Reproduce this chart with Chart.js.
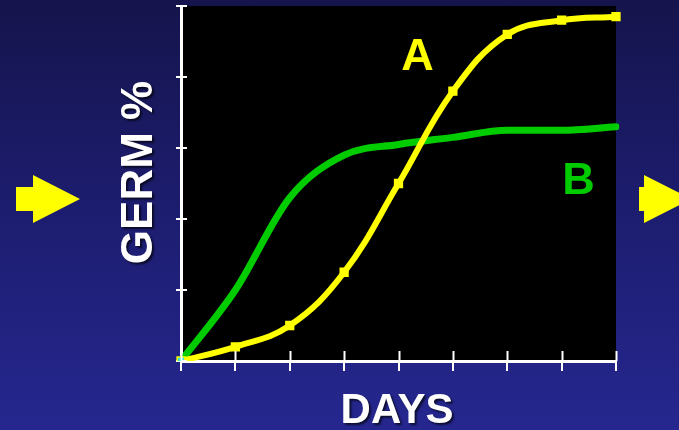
<!DOCTYPE html>
<html>
<head>
<meta charset="utf-8">
<script src="https://cdn.jsdelivr.net/npm/chart.js@4"></script>
<style>
  html, body { margin: 0; padding: 0; }
  body {
    width: 679px; height: 430px; overflow: hidden;
    background: linear-gradient(to bottom, #15144c 0%, #1d1d70 50%, #25278f 100%);
  }
  #wrap { position: relative; width: 679px; height: 430px; }
</style>
</head>
<body>
<div id="wrap"><canvas id="chart" width="679" height="430"></canvas></div>
<script>
// Days after sowing (tick positions on the x axis)
const days = [0, 1, 2, 3, 4, 5, 6, 7, 8];
// Cumulative germination (%) for the two seed lots
const seriesA = [0, 4, 10, 25, 50, 76, 92, 96, 97];
const seriesB = [0, 20, 46, 58, 61, 63, 65, 65, 66];
// Y axis range and tick step
const yMin = 0, yMax = 100, yStep = 20;

const FONT = '"Liberation Sans", Arial, sans-serif';

// Black plot background
const plotBackground = {
  id: 'plotBackground',
  beforeDraw(chart) {
    const { ctx, chartArea: a } = chart;
    ctx.save();
    ctx.fillStyle = '#000000';
    ctx.fillRect(a.left, a.top, a.right - a.left, a.bottom - a.top);
    ctx.restore();
  }
};

// Tick marks that also reach into the plot, plus titles, series letters and arrows
const decorations = {
  id: 'decorations',
  afterDraw(chart) {
    const { ctx, chartArea: a } = chart;
    const xs = chart.scales.x, ys = chart.scales.y;
    ctx.save();
    ctx.strokeStyle = '#ffffff';
    ctx.lineWidth = 2;
    ctx.beginPath();
    xs.ticks.forEach((t, i) => {
      const px = Math.round(xs.getPixelForTick(i)) + 0.5;
      ctx.moveTo(px, a.bottom - 10);
      ctx.lineTo(px, a.bottom);
    });
    ys.ticks.forEach((t, i) => {
      const py = Math.round(ys.getPixelForTick(i));
      ctx.moveTo(a.left, py);
      ctx.lineTo(a.left + 6, py);
    });
    ctx.stroke();

    // Arrows at both sides
    ctx.fillStyle = '#ffff00';
    const arrow = (x0, xs1, tip) => {
      ctx.beginPath();
      ctx.moveTo(x0, 187); ctx.lineTo(xs1, 187); ctx.lineTo(xs1, 175);
      ctx.lineTo(tip, 199); ctx.lineTo(xs1, 223); ctx.lineTo(xs1, 211);
      ctx.lineTo(x0, 211); ctx.closePath(); ctx.fill();
    };
    arrow(16, 33, 80);
    arrow(639, 644, 691);

    // Series letters
    ctx.textAlign = 'center';
    ctx.textBaseline = 'alphabetic';
    ctx.font = 'bold 45px ' + FONT;
    ctx.fillStyle = '#ffff00';
    ctx.fillText('A', 417.5, 70);
    ctx.fillStyle = '#00cc00';
    ctx.fillText('B', 578.5, 194);

    // Axis titles with a soft drop shadow
    ctx.shadowColor = 'rgba(0,0,0,0.65)';
    ctx.shadowOffsetX = 2;
    ctx.shadowOffsetY = 2;
    ctx.shadowBlur = 2;
    ctx.fillStyle = '#ffffff';
    ctx.font = 'bold 42px ' + FONT;
    ctx.fillText('DAYS', 397, 423);
    ctx.save();
    ctx.translate(151.5, 172.5);
    ctx.rotate(-Math.PI / 2);
    ctx.font = 'bold 44px ' + FONT;
    ctx.fillText('GERM %', 0, 0);
    ctx.restore();
    ctx.restore();
  }
};

const pointBgA = seriesA.map((v, i) => i === 0 ? '#33e0e0' : '#ffff00');

new Chart(document.getElementById('chart'), {
  type: 'line',
  data: {
    labels: days,
    datasets: [
      {
        label: 'A',
        data: seriesA,
        borderColor: '#ffff00',
        borderWidth: 6,
        tension: 0.4,
        pointStyle: 'rect',
        pointRadius: 5.5,
        pointBackgroundColor: pointBgA,
        pointBorderColor: '#ffff00',
        pointBorderWidth: 1.5,
        fill: false
      },
      {
        label: 'B',
        data: seriesB,
        borderColor: '#00cc00',
        borderWidth: 7,
        cubicInterpolationMode: 'monotone',
        borderCapStyle: 'round',
        pointRadius: 0,
        fill: false
      }
    ]
  },
  options: {
    responsive: false,
    animation: false,
    events: [],
    layout: {
      autoPadding: false,
      padding: { left: 176, top: 6, right: 63, bottom: 59 }
    },
    plugins: {
      legend: { display: false },
      tooltip: { enabled: false }
    },
    scales: {
      x: {
        type: 'category',
        offset: false,
        ticks: { display: false },
        grid: { drawOnChartArea: false, drawTicks: true, tickLength: 10, color: '#ffffff', lineWidth: 2 },
        border: { display: true, color: '#ffffff', width: 3 }
      },
      y: {
        min: yMin,
        max: yMax,
        ticks: { display: false, stepSize: yStep },
        grid: { drawOnChartArea: false, drawTicks: true, tickLength: 5, color: '#ffffff', lineWidth: 2 },
        border: { display: true, color: '#ffffff', width: 3 }
      }
    }
  },
  plugins: [plotBackground, decorations]
});
</script>
</body>
</html>
